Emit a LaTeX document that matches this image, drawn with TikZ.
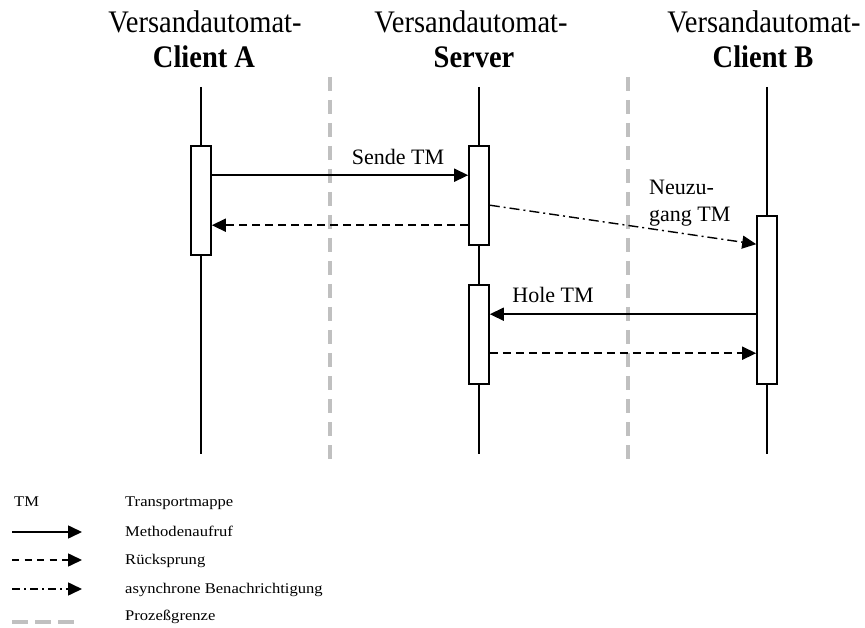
\documentclass[tikz,border=0pt]{standalone}
\usepackage{fontspec}
\setmainfont{Liberation Serif}
\usetikzlibrary{arrows.meta,calc}
\definecolor{boundgray}{RGB}{192,192,192}
\newcommand{\headline}[1]{\scalebox{1}[1.1]{#1}}
\newcommand{\legline}[1]{\scalebox{1.12}[1]{#1}}
\tikzset{
  lifeline/.style={line width=1.6pt},
  actbox/.style={draw, line width=1.6pt, fill=white, minimum width=20pt, inner sep=0pt},
  msgtip/.style={-{Triangle[length=14pt,width=13pt]}},
  callmsg/.style={msgtip, line width=1.6pt},
  retmsg/.style={msgtip, line width=1.6pt, dash pattern=on 8pt off 5pt},
  asyncmsg/.style={msgtip, line width=1.4pt, dash pattern=on 10pt off 4pt on 2pt off 4pt},
  legret/.style={msgtip, line width=1.6pt, dash pattern=on 7pt off 5.5pt},
  legasync/.style={msgtip, line width=1.6pt, dash pattern=on 8pt off 4pt on 2pt off 4pt},
  boundary/.style={boundgray, line width=4pt, dash pattern=on 14pt off 9pt},
  headtext/.style={anchor=base, inner sep=0pt, font=\fontsize{28.5}{34}\selectfont},
  msgtext/.style={inner sep=0pt, font=\fontsize{22}{27}\selectfont},
  legtext/.style={anchor=base west, inner sep=0pt, font=\fontsize{14.8}{17}\selectfont},
}
\begin{document}
\begin{tikzpicture}[x=1pt,y=-1pt]
\useasboundingbox (0,0) rectangle (865,628);

% headers
\node[headtext] (hA1) at (205,33) {\headline{Versandautomat-}};
\node[headtext] (hA2) at (204,68) {\headline{\textbf{Client A}}};
\node[headtext] (hS1) at (471,33) {\headline{Versandautomat-}};
\node[headtext] (hS2) at (474,68) {\headline{\textbf{Server}}};
\node[headtext] (hB1) at (764,33) {\headline{Versandautomat-}};
\node[headtext] (hB2) at (763,68) {\headline{\textbf{Client B}}};

% process boundaries
\coordinate (pb1t) at (330,77);  \coordinate (pb1b) at (330,461);
\coordinate (pb2t) at (628,77);  \coordinate (pb2b) at (628,461);
\draw[boundary] (pb1t) -- (pb1b);
\draw[boundary] (pb2t) -- (pb2b);

% lifelines
\coordinate (lAt) at (201,87);  \coordinate (lAb) at (201,454);
\coordinate (lSt) at (479,87);  \coordinate (lSb) at (479,454);
\coordinate (lBt) at (767,87);  \coordinate (lBb) at (767,454);
\draw[lifeline] (lAt) -- (lAb);
\draw[lifeline] (lSt) -- (lSb);
\draw[lifeline] (lBt) -- (lBb);

% activation bars
\node[actbox, minimum height=109pt] (actA)  at (201,200.5) {};
\node[actbox, minimum height=99pt]  (actS1) at (479,195.5) {};
\node[actbox, minimum height=99pt]  (actS2) at (479,334.5) {};
\node[actbox, minimum height=168pt] (actB)  at (767,300) {};

% messages
\draw[callmsg]  ($(actA.north east)+(0,30)$)  -- ($(actS1.north west)+(0,30)$);
\draw[retmsg]   ($(actS1.north west)+(0,80)$) -- ($(actA.north east)+(0,80)$);
\draw[asyncmsg] ($(actS1.north east)+(0,60)$) -- ($(actB.north west)+(0,29)$);
\draw[callmsg]  ($(actB.north west)+(0,99)$)  -- ($(actS2.north east)+(0,30)$);
\draw[retmsg]   ($(actS2.north east)+(0,69)$) -- ($(actB.north west)+(0,138)$);

% message labels
\node[msgtext, anchor=base] (lblSende) at (398,165) {Sende TM};
\node[msgtext, anchor=base] (lblHole) at (553,303) {Hole TM};
\node[msgtext, anchor=base west] (lblNeu1) at (649,195) {Neuzu-};
\node[msgtext, anchor=base west] (lblNeu2) at (649,222) {gang TM};

% legend
\node[legtext] (legTM) at (14,506) {\legline{TM}};
\node[legtext] (legTMt) at (125,506) {\legline{Transportmappe}};
\coordinate (lg1a) at (12,532);   \coordinate (lg1b) at (82,532);
\coordinate (lg2a) at (12,560);   \coordinate (lg2b) at (82,560);
\coordinate (lg3a) at (12,589);   \coordinate (lg3b) at (82,589);
\coordinate (lg4a) at (12,622);   \coordinate (lg4b) at (74,622);
\draw[callmsg]  (lg1a) -- (lg1b);
\draw[legret]   (lg2a) -- (lg2b);
\draw[legasync] (lg3a) -- (lg3b);
\draw[boundgray, line width=4.3pt, dash pattern=on 16pt off 7pt] (lg4a) -- (lg4b);
\node[legtext] (legCall) at (125,536) {\legline{Methodenaufruf}};
\node[legtext] (legRet) at (125,564) {\legline{Rücksprung}};
\node[legtext] (legAsync) at (125,593) {\legline{asynchrone Benachrichtigung}};
\node[legtext] (legBound) at (125,620) {\legline{Prozeßgrenze}};
\end{tikzpicture}
\end{document}
